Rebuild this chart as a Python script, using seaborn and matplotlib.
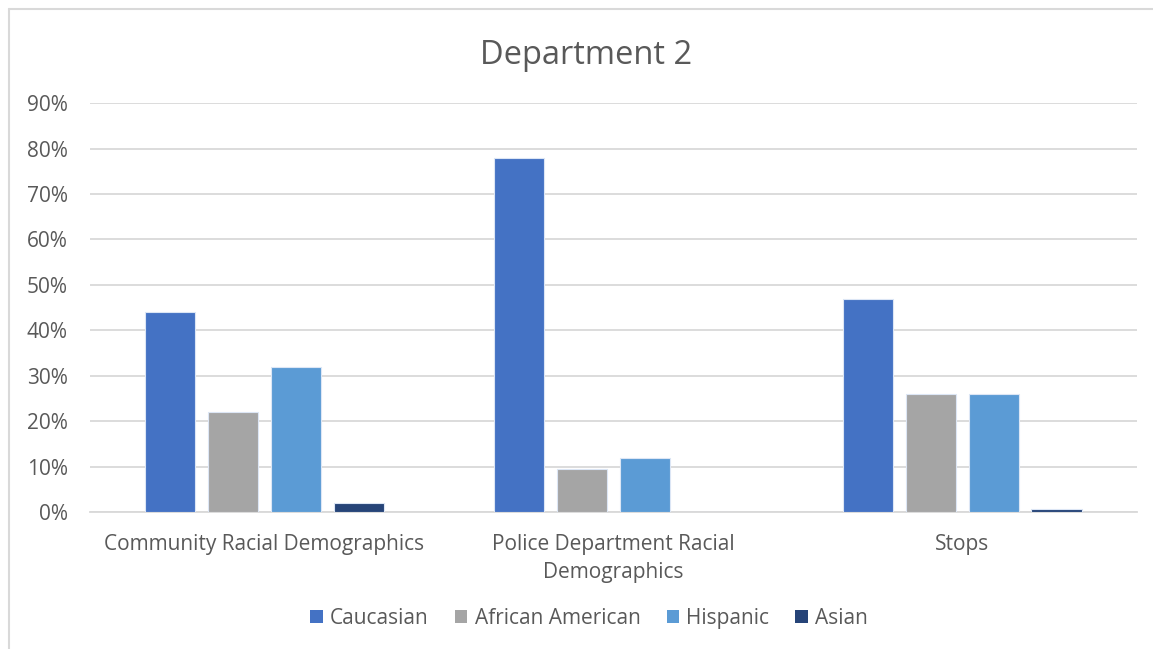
import matplotlib
matplotlib.use("Agg")
import matplotlib.pyplot as plt
from matplotlib.lines import Line2D
from matplotlib.patches import Patch
from matplotlib.ticker import PercentFormatter, MultipleLocator
import seaborn as sns
import pandas as pd

# Racial breakdown for Department 2 (share of each group)
categories = ["Community Racial Demographics",
              "Police Department Racial\nDemographics",
              "Stops"]
groups = ["Caucasian", "African American", "Hispanic", "Asian"]
caucasian = [0.44, 0.78, 0.47]
african_american = [0.22, 0.094, 0.26]
hispanic = [0.32, 0.12, 0.26]
asian = [0.02, 0.0, 0.007]
colors = ["#4472C4", "#A5A5A5", "#5B9BD5", "#264478"]

rows = []
for name, vals in zip(groups, [caucasian, african_american, hispanic, asian]):
    for cat, v in zip(categories, vals):
        rows.append({"category": cat, "group": name, "share": v})
df = pd.DataFrame(rows)

sns.set_theme(style="white")
plt.rcParams["font.family"] = ["Open Sans", "DejaVu Sans"]
text_color = "#595959"
grid_color = "#D9D9D9"

fig = plt.figure(figsize=(11.53, 6.49), dpi=100)
ax = fig.add_axes([0.078, 0.211, 0.908, 0.630])

sns.barplot(data=df, x="category", y="share", hue="group",
            hue_order=groups, palette=colors, saturation=1,
            width=0.72, gap=0.2, edgecolor="#DCE6F5", linewidth=0.8,
            ax=ax, legend=False, zorder=3)

ax.set_ylim(0, 0.9)
ax.yaxis.set_major_locator(MultipleLocator(0.1))
ax.yaxis.set_major_formatter(PercentFormatter(1.0, decimals=0))
ax.set_xlim(-0.5, 2.5)
ax.grid(axis="y", color=grid_color, linewidth=1.3, zorder=0)
ax.set_axisbelow(True)
for side in ["top", "right", "left"]:
    ax.spines[side].set_visible(False)
ax.spines["bottom"].set_color(grid_color)
ax.spines["bottom"].set_linewidth(1.3)
ax.tick_params(axis="both", length=0, labelsize=15, colors=text_color)
ax.tick_params(axis="y", pad=16)
ax.tick_params(axis="x", pad=16)
ax.set_xlabel("")
ax.set_ylabel("")
for lbl in ax.get_xticklabels():
    lbl.set_linespacing(1.4)

fig.text(0.508, 0.914, "Department 2", ha="center", va="center",
         fontsize=23.5, color=text_color)

handles = [Patch(facecolor=c, edgecolor="none") for c in colors]
fig.legend(handles, groups, loc="center", bbox_to_anchor=(0.511, 0.047),
           ncol=4, frameon=False, fontsize=15, labelcolor=text_color,
           handlelength=0.6, handleheight=0.6, handletextpad=0.35,
           columnspacing=1.25)

# Chart frame edges
fig.add_artist(Line2D([0.0078, 0.0078], [0.0, 0.986], color="#D9D9D9",
                      linewidth=1.5, transform=fig.transFigure))
fig.add_artist(Line2D([0.0078, 1.0], [0.986, 0.986], color="#D9D9D9",
                      linewidth=1.5, transform=fig.transFigure))

fig.savefig("out.png", dpi=100, facecolor="white")
